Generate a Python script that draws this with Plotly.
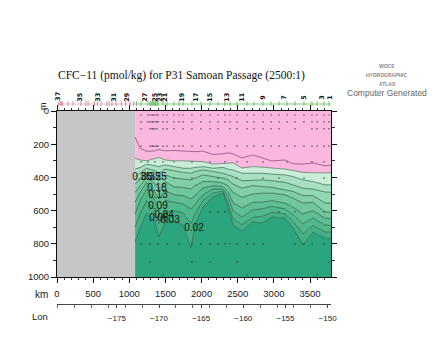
import plotly.graph_objects as go

x_km = [1080,1150,1240,1355,1410,1495,1620,1745,1853,1908,2020,2158,2296,2365,2434,2558,2710,2835,2973,3153,3264,3402,3540,3706,3800]
c_top = [157,225,243,240,232,240,238,240,243,245,242,262,258,252,258,283,265,280,301,295,318,320,313,330,325]
c_pink = [285,295,300,285,280,295,300,300,303,305,305,320,315,310,312,343,335,338,342,350,358,370,372,373,372]
c035 = [350,340,320,330,335,325,335,345,345,340,335,345,340,350,355,375,375,375,380,385,395,415,425,445,445]
c025 = [395,375,345,360,375,350,361,370,375,365,355,365,375,385,395,420,415,415,420,430,445,465,470,488,490]
c018 = [440,410,375,400,420,385,404,410,415,405,385,395,404,415,440,465,450,455,460,475,485,510,510,554,555]
c013 = [490,450,400,440,470,425,458,460,470,450,425,425,434,450,490,520,500,495,495,505,525,555,550,608,610]
c009 = [550,490,430,490,530,480,505,510,530,510,465,450,455,485,550,585,550,550,540,555,580,620,600,645,650]
c006 = [620,540,470,540,600,540,550,560,590,560,505,470,470,515,600,640,595,590,575,590,625,680,645,687,690]
c004 = [700,620,540,600,680,610,600,615,680,620,540,495,482,550,650,685,640,635,610,620,665,740,690,729,730]
c002 = [789,705,614,668,759,668,660,687,825,687,578,518,494,578,687,723,668,675,638,645,705,807,729,765,770]
surface = [0]*25
floor = [1000]*25

label_text = ["0.35","0.35","0.25","0.18","0.13","0.09","0.04","0.06","0.03","0.02"]
label_x = [1175,1300,1383,1383,1397,1397,1480,1410,1563,1895]
label_y = [398,398,398,464,512,578,632,645,657,705]

st = [1162,1258,1286,1314,1328,1355,1383,1397,1466,1521,1618,1687,1743,1867,1991,2116,2227,2323,2393,2489,2628,2724,2849,2960,3070,3181,3291,3416,3527,3596,3693,3762]
row_depths = [24,66,108,211,307,404,608,801,910,988]
row_x = [
 st,
 st,
 [1162,1286,1314,1328,1355,1383,1466,1521,1618,1743,1867,1991,2116,2227,2393,2489,2628,2724,2849,2960,3070,3291,3527,3596,3693,3762],
 [1162,1286,1314,1328,1355,1383,1397,1466,1521,1618,1687,1743,1867,1991,2116,2227,2323,2489,2628,2724,2849,2960,3070,3181,3291,3416,3527,3596,3693,3762],
 [1162,1258,1355,1466,1618,1867,2116,2323,2489,2628,2849,3181,3527,3693],
 [1328,1618,1867,2227,2489,2849,3070,3416,3693],
 [2116,2227,2323,3070,3291,3693],
 [1162,1286,1397,1521,1687,1867,1991,2116,2227,2323,2393,2489,2628,2724,2849,3291,3416,3527,3693],
 [1286,1867,2116,2489,3762],
 [1466,2628,3596],
]

pink_st = [25,45,60,80,150,220,330,400,430,520,560,610,690,720,760,820,890,950,1010,1060]
green_st = [1100,1162,1258,1286,1300,1314,1328,1342,1355,1369,1383,1397,1466,1521,1618,1687,1743,1867,1991,2116,2227,2323,2393,2489,2628,2724,2849,2960,3070,3181,3291,3416,3527,3596,3693,3762]
st_labels = ["37","35","33","31","29","27","25","23","21","19","17","15","13","11","9","7","5","3","1"]
st_label_x = [15,318,567,788,968,1217,1355,1424,1494,1729,1922,2116,2351,2558,2849,3139,3416,3665,3776]

km_ticks = [0,500,1000,1500,2000,2500,3000,3500]
depth_ticks = [0,200,400,600,800,1000]
lon_ticks = [-175,-170,-165,-160,-155,-150]

layers = [
 (c_pink, "#FBB8DF"),
 (c035, "#C9EDD9"),
 (c025, "#A9DFC3"),
 (c018, "#93D6B4"),
 (c013, "#82CEA8"),
 (c009, "#70C69D"),
 (c006, "#5FBE93"),
 (c004, "#50B88B"),
 (c002, "#43B085"),
 (floor, "#2BA57D"),
]
lines = [(c_top,"#8A4F80"),(c_pink,"#6A7A70"),(c035,"#3F7B5C"),(c025,"#3A7356"),(c018,"#346C50"),(c013,"#306A4E"),(c009,"#2F684D"),(c006,"#2F684D"),(c004,"#2F684D"),(c002,"#2F684D")]

fig = go.Figure()
fig.add_trace(go.Scatter(x=[0,1080],y=[1000,1000],fill="tozeroy",mode="none",fillcolor="#C6C6C6",showlegend=False))
fig.add_trace(go.Scatter(x=x_km,y=surface,mode="lines",line=dict(width=0,color="#FBB8DF"),showlegend=False))
for arr,col in layers:
    fig.add_trace(go.Scatter(x=x_km,y=arr,mode="lines",line=dict(width=0,color=col),fill="tonexty",fillcolor=col,showlegend=False))
for arr,col in lines:
    fig.add_trace(go.Scatter(x=x_km,y=arr,mode="lines",line=dict(color=col,width=0.8),showlegend=False))
for d,xs in zip(row_depths,row_x):
    fig.add_trace(go.Scatter(x=xs,y=[d]*len(xs),mode="markers",marker=dict(color="#333333",size=1.2,symbol="square"),showlegend=False))
fig.add_trace(go.Scatter(x=label_x,y=label_y,text=label_text,mode="text",textfont=dict(family="Liberation Sans",size=10,color="#111111"),showlegend=False))

# station strip
fig.add_trace(go.Scatter(x=[0,1080],y=[0,0],mode="lines",line=dict(color="#E8B8C8",width=1),xaxis="x",yaxis="y2",showlegend=False))
fig.add_trace(go.Scatter(x=[1080,3790],y=[0,0],mode="lines",line=dict(color="#A8DDA0",width=1.5),xaxis="x",yaxis="y2",showlegend=False))
fig.add_trace(go.Scatter(x=pink_st,y=[0]*len(pink_st),mode="markers",marker=dict(symbol="line-ns",size=4,line=dict(color="#C8808C",width=0.8)),xaxis="x",yaxis="y2",showlegend=False))
fig.add_trace(go.Scatter(x=green_st,y=[0]*len(green_st),mode="markers",marker=dict(symbol="line-ns",size=4,line=dict(color="#58B858",width=0.8)),xaxis="x",yaxis="y2",showlegend=False))
# lon axis carrier
fig.add_trace(go.Scatter(x=lon_ticks,y=[0]*len(lon_ticks),mode="markers",marker=dict(opacity=0),xaxis="x2",yaxis="y3",showlegend=False))

ann = [dict(x=t,y=0.9,xref="x",yref="y2",yanchor="middle",text="<b>"+s+"</b>",textangle=-90,showarrow=False,
            font=dict(family="DejaVu Sans",size=6.5,color="#111111"),xanchor="center")
       for t,s in zip(st_label_x,st_labels)]

PLOT_L,PLOT_R,PLOT_T,PLOT_B=57,331,88,304
H=PLOT_B-PLOT_T
def vf(py): return (PLOT_B-py)/H
def txt(px,py,s,size,color="#222222",family="Liberation Sans",xanchor="left",angle=0):
    return dict(x=(px-PLOT_L)/(PLOT_R-PLOT_L),y=vf(py),xref="paper",yref="paper",text=s,showarrow=False,xanchor=xanchor,yanchor="middle",
                font=dict(family=family,size=size,color=color),textangle=angle)

fig.update_layout(
    width=440,height=350,margin=dict(l=PLOT_L,r=440-PLOT_R,t=PLOT_T,b=350-PLOT_B,pad=0),
    paper_bgcolor="white",plot_bgcolor="white",showlegend=False,
    xaxis=dict(domain=[0,1],range=[0,3790],anchor="y",tickvals=km_ticks,ticks="outside",ticklen=5,tickwidth=1,tickcolor="#111",
               showgrid=False,zeroline=False,showline=True,linecolor="#111",linewidth=1,mirror="ticks",
               minor=dict(dtick=100,ticks="outside",ticklen=2,tickcolor="#333"),
               tickfont=dict(family="Liberation Sans",size=9.5,color="#222"),ticklabelstandoff=3),
    yaxis=dict(domain=[vf(277),vf(111)],range=[1000,0],anchor="x",tickvals=depth_ticks,ticks="outside",ticklen=5,tickwidth=1,tickcolor="#111",
               showgrid=False,zeroline=False,showline=True,linecolor="#111",linewidth=1,mirror="ticks",
               minor=dict(dtick=100,ticks="outside",ticklen=3,tickcolor="#333"),
               tickfont=dict(family="Liberation Sans",size=9.5,color="#222")),
    yaxis2=dict(domain=[vf(106),vf(88)],range=[-0.25,2],visible=False,anchor="x"),
    yaxis3=dict(domain=[0,0.005],range=[0,1],visible=False,anchor="x2"),
    xaxis2=dict(domain=[0,1],anchor="y3",range=[-182.1,-149.6],tickvals=lon_ticks,ticks="outside",ticklen=3,tickwidth=1,
                tickcolor="#444",showgrid=False,zeroline=False,showline=True,linecolor="#444",linewidth=1,
                minor=dict(dtick=2,ticks="outside",ticklen=3,tickcolor="#666"),
                tickfont=dict(family="Liberation Sans",size=8,color="#222"),ticklabelstandoff=3),
    annotations=ann+[
        txt(56,75,"CFC\u221211 (pmol/kg) for P31 Samoan Passage (2500:1)",11.5,color="#111",family="Liberation Serif"),
        txt(387,66,"<b>WOCE</b>",5,color="#888",xanchor="center"),
        txt(387,75,"<b>HYDROGRAPHIC</b>",5,color="#888",xanchor="center"),
        txt(387,84,"<b>ATLAS</b>",5,color="#888",xanchor="center"),
        txt(387,93,"Computer Generated",8.5,color="#666",xanchor="center"),
        txt(33,294,"km",10),
        txt(30,316,"Lon",9.5),
        txt(43,106,"m",9,xanchor="center",angle=-90),
    ],
)
fig.write_html("out.html",config=dict(displayModeBar=False),post_script="document.body.style.margin='0';")
